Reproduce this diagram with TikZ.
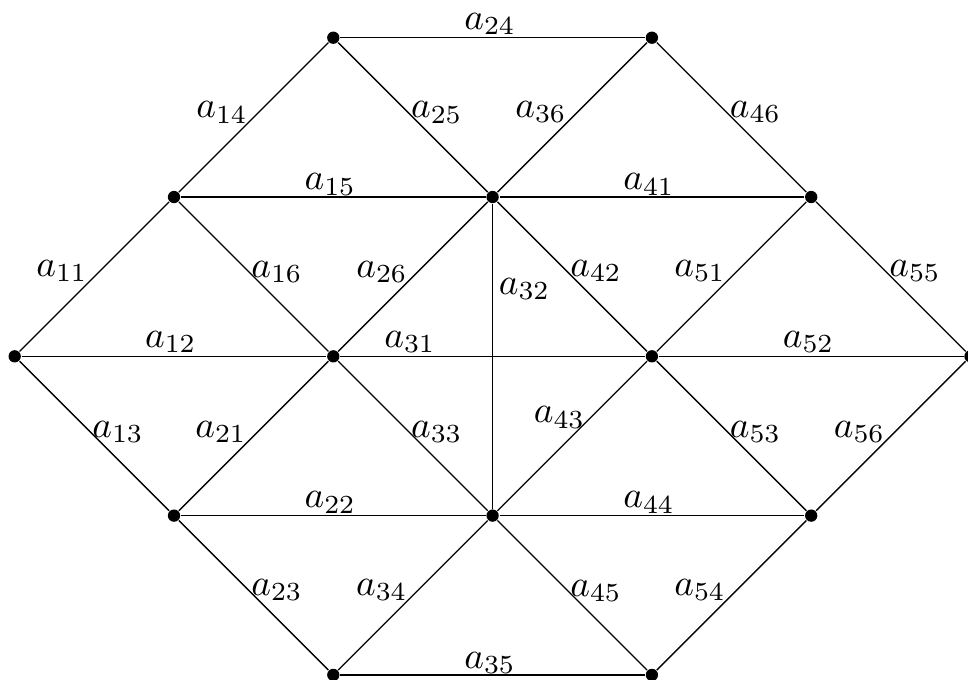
\documentclass[tikz,border=0pt]{standalone}
\begin{document}
\begin{tikzpicture}[x=0.268pt,y=-0.268pt,
  vtx/.style={circle,fill=black,inner sep=0pt,minimum size=3.3pt},
  edge/.style={line width=0.35pt},
  lab/.style={inner sep=0pt,font=\normalsize}]
\useasboundingbox (0,0) rectangle (968,679);
% vertices
\node[vtx] (L) at (14.7,356.3) {};
\node[vtx] (A) at (174.0,197.0) {};
\node[vtx] (B) at (174.0,515.6) {};
\node[vtx] (C) at (333.3,37.7) {};
\node[vtx] (D) at (333.3,356.3) {};
\node[vtx] (E) at (333.3,674.9) {};
\node[vtx] (F) at (492.6,197.0) {};
\node[vtx] (G) at (492.6,515.6) {};
\node[vtx] (H) at (651.9,37.7) {};
\node[vtx] (I) at (651.9,356.3) {};
\node[vtx] (J) at (651.9,674.9) {};
\node[vtx] (K) at (811.2,197.0) {};
\node[vtx] (M) at (811.2,515.6) {};
\node[vtx] (R) at (970.5,356.3) {};
% edges
\draw[edge] (C) -- (H);
\draw[edge] (C) -- (A);
\draw[edge] (C) -- (F);
\draw[edge] (H) -- (F);
\draw[edge] (H) -- (K);
\draw[edge] (A) -- (F);
\draw[edge] (F) -- (K);
\draw[edge] (A) -- (L);
\draw[edge] (A) -- (D);
\draw[edge] (F) -- (D);
\draw[edge] (F) -- (G);
\draw[edge] (F) -- (I);
\draw[edge] (K) -- (I);
\draw[edge] (K) -- (R);
\draw[edge] (L) -- (D);
\draw[edge] (D) -- (I);
\draw[edge] (I) -- (R);
\draw[edge] (L) -- (B);
\draw[edge] (D) -- (B);
\draw[edge] (D) -- (G);
\draw[edge] (I) -- (G);
\draw[edge] (I) -- (M);
\draw[edge] (R) -- (M);
\draw[edge] (B) -- (G);
\draw[edge] (G) -- (M);
\draw[edge] (B) -- (E);
\draw[edge] (G) -- (E);
\draw[edge] (G) -- (J);
\draw[edge] (M) -- (J);
\draw[edge] (E) -- (J);
% labels
\node[lab] (l24) at (490,24) {$a_{24}$};
\node[lab] (l14) at (222,112.5) {$a_{14}$};
\node[lab] (l25) at (436.7,112.5) {$a_{25}$};
\node[lab] (l36) at (541,112) {$a_{36}$};
\node[lab] (l46) at (755.5,112) {$a_{46}$};
\node[lab] (l15) at (330.3,184.3) {$a_{15}$};
\node[lab] (l41) at (649,184.3) {$a_{41}$};
\node[lab] (l11) at (62,271) {$a_{11}$};
\node[lab] (l16) at (277,272) {$a_{16}$};
\node[lab] (l26) at (382,272) {$a_{26}$};
\node[lab] (l32) at (524.5,289) {$a_{32}$};
\node[lab] (l42) at (596,271) {$a_{42}$};
\node[lab] (l51) at (700,271) {$a_{51}$};
\node[lab] (l55) at (915,271) {$a_{55}$};
\node[lab] (l12) at (170.8,342) {$a_{12}$};
\node[lab] (l31) at (410,342) {$a_{31}$};
\node[lab] (l52) at (808.5,342) {$a_{52}$};
\node[lab] (l13) at (118,432) {$a_{13}$};
\node[lab] (l21) at (221,432) {$a_{21}$};
\node[lab] (l33) at (436.7,432) {$a_{33}$};
\node[lab] (l43) at (559.5,417.5) {$a_{43}$};
\node[lab] (l53) at (755.5,432) {$a_{53}$};
\node[lab] (l56) at (859.5,432) {$a_{56}$};
\node[lab] (l22) at (330.3,502.5) {$a_{22}$};
\node[lab] (l44) at (649,502.5) {$a_{44}$};
\node[lab] (l23) at (277,590) {$a_{23}$};
\node[lab] (l34) at (381.7,590) {$a_{34}$};
\node[lab] (l45) at (596,591) {$a_{45}$};
\node[lab] (l54) at (700,590) {$a_{54}$};
\node[lab] (l35) at (490,663) {$a_{35}$};
\end{tikzpicture}
\end{document}
